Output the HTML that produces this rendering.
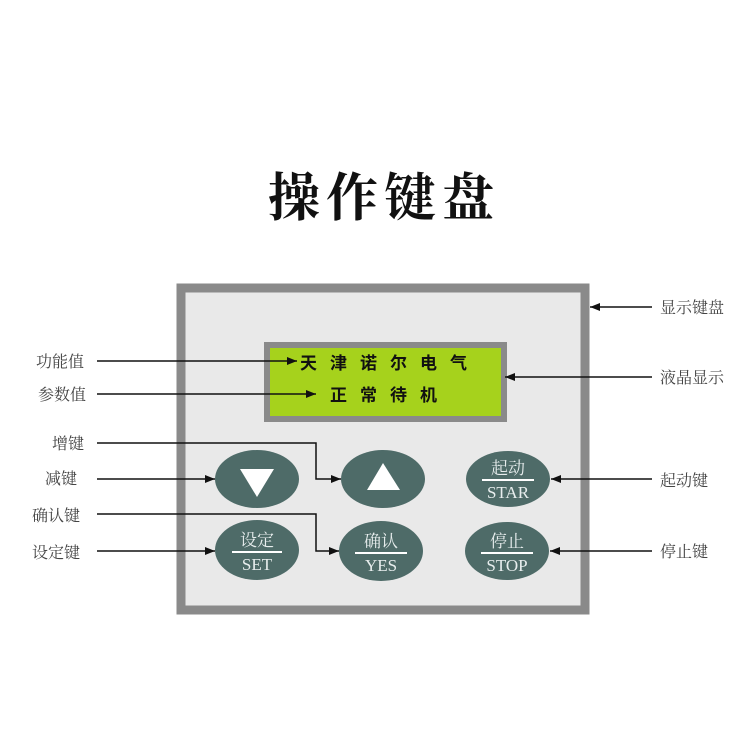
<!DOCTYPE html>
<html><head><meta charset="utf-8"><style>
html,body{margin:0;padding:0;background:#fff}
svg{display:block}
.lbl{font-family:"Liberation Serif","Noto Serif CJK SC",serif;font-size:16px;fill:#444}
.lcd{font-family:"Liberation Sans","Noto Sans CJK SC",sans-serif;font-size:17px;font-weight:bold;fill:#111;letter-spacing:13px}
.bt{font-family:"Liberation Serif","Noto Serif CJK SC",serif;fill:#e8eeee}
</style></head><body>
<svg width="750" height="750" viewBox="0 0 750 750" xmlns="http://www.w3.org/2000/svg">
<defs><marker id="a" markerWidth="10" markerHeight="8" refX="10" refY="4" orient="auto" markerUnits="userSpaceOnUse"><path d="M0,0 L10,4 L0,8 Z" fill="#111"/></marker></defs>
<text x="384" y="216" text-anchor="middle" font-family="Noto Serif CJK SC,serif" font-size="52" font-weight="bold" fill="#111" letter-spacing="6">操作键盘</text>
<rect x="181" y="288" width="404" height="322" fill="#e9e9e9" stroke="#8a8a8a" stroke-width="9"/>
<rect x="267" y="345" width="237" height="74" fill="#a6d21c" stroke="#8a8a8a" stroke-width="6"/>
<text class="lcd" x="300" y="369">天津诺尔电气</text>
<text class="lcd" x="330" y="401">正常待机</text>
<g fill="#4e6b68">
<ellipse cx="257" cy="479" rx="42" ry="29"/>
<ellipse cx="383" cy="479" rx="42" ry="29"/>
<ellipse cx="508" cy="479" rx="42" ry="28"/>
<ellipse cx="257" cy="550" rx="42" ry="30"/>
<ellipse cx="381" cy="551" rx="42" ry="30"/>
<ellipse cx="507" cy="551" rx="42" ry="29"/>
</g>
<path d="M240,469 L274,469 L257,497 Z" fill="#fff"/>
<path d="M367,490 L400,490 L383,463 Z" fill="#fff"/>
<g class="bt" text-anchor="middle">
<text x="508" y="474" font-size="17">起动</text><rect x="482" y="479" width="52" height="2" fill="#fff"/><text x="508" y="498" font-size="17">STAR</text>
<text x="257" y="546" font-size="17">设定</text><rect x="232" y="551" width="50" height="2" fill="#fff"/><text x="257" y="570" font-size="17">SET</text>
<text x="381" y="547" font-size="17">确认</text><rect x="355" y="552" width="52" height="2" fill="#fff"/><text x="381" y="571" font-size="17">YES</text>
<text x="507" y="547" font-size="17">停止</text><rect x="481" y="552" width="52" height="2" fill="#fff"/><text x="507" y="571" font-size="17">STOP</text>
</g>
<g stroke="#111" stroke-width="1.5" fill="none" marker-end="url(#a)">
<path d="M97,361 L297,361"/>
<path d="M97,394 L316,394"/>
<path d="M97,443 L316,443 L316,479 L341,479"/>
<path d="M97,479 L215,479"/>
<path d="M97,514 L316,514 L316,551 L339,551"/>
<path d="M97,551 L215,551"/>
<path d="M652,307 L590,307"/>
<path d="M652,377 L505,377"/>
<path d="M652,479 L551,479"/>
<path d="M652,551 L550,551"/>
</g>
<g class="lbl">
<text x="36" y="367">功能值</text>
<text x="38" y="400">参数值</text>
<text x="52" y="449">增键</text>
<text x="45" y="484">减键</text>
<text x="32" y="521">确认键</text>
<text x="32" y="558">设定键</text>
<text x="660" y="313">显示键盘</text>
<text x="660" y="383">液晶显示</text>
<text x="660" y="486">起动键</text>
<text x="660" y="557">停止键</text>
</g>
</svg>
</body></html>
